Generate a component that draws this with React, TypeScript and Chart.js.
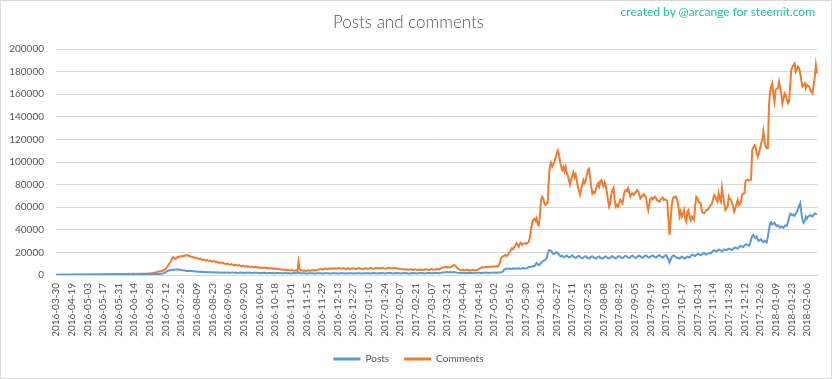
import React, { useEffect, useRef } from "react";
import { Chart, registerables } from "chart.js";

Chart.register(...registerables);

const TITLE = "Posts and comments";
const CREDIT = "created by @arcange for steemit.com";
const SERIES_NAMES = ["Posts", "Comments"];
const SERIES_COLORS = ["#5B9BD5", "#ED7D31"];
const FIRST_DAY = "2016-03-30";
const DAILY_FROM = "2016-04-06";
const LAST_DAY = "2018-02-15";
const LABEL_EVERY = 14;
const Y_MAX = 200000;
const Y_STEP = 20000;

// Daily values, in thousands, split by category index blocks of 50
const postsA = [0.1,0.2,0.2,0.1,0.2,0.2,0.2,0.3,0.2,0.2, 0.3,0.2,0.2,0.3,0.3,0.2,0.3,0.3,0.2,0.3, 0.3,0.3,0.2,0.3,0.3,0.3,0.3,0.2,0.3,0.3, 0.3,0.4,0.3,0.3,0.3,0.4,0.3,0.3,0.4,0.4, 0.3,0.4,0.4,0.3,0.4,0.4,0.4,0.3,0.4,0.4];
const postsB = [0.4,0.4,0.5,0.4,0.4,0.5,0.5,0.4,0.5,0.5, 0.5,0.4,0.5,0.5,0.5,0.5,0.4,0.5,0.5,0.5, 0.6,0.5,0.5,0.6,0.6,0.5,0.6,0.6,0.6,0.5, 0.6,0.6,0.6,0.6,0.7,0.7,0.7,0.7,0.8,0.8, 0.8,0.9,0.9,1.0,1.1,1.2,1.5,1.9,2.4,3.0];
const postsC = [3.6,4.0,4.3,4.5,4.6,4.7,4.8,4.6,4.9,5.0, 4.8,4.6,4.5,4.3,4.1,4.0,3.8,3.6,3.5,3.6, 3.7,3.5,3.4,3.6,3.3,3.1,3.0,2.9,2.8,2.9, 2.7,2.8,2.6,2.7,2.5,2.6,2.4,2.5,2.6,2.4, 2.3,2.4,2.5,2.3,2.2,2.4,2.3,2.1,2.2,2.3];
const postsD = [2.1,2.2,2.0,2.1,2.2,2.0,1.9,2.1,2.2,2.1, 2.0,2.1,1.9,1.8,2.0,2.1,2.0,2.1,1.9,1.8, 1.9,2.0,2.0,1.9,2.0,1.8,1.7,1.9,2.0,1.9, 1.9,1.8,1.7,1.6,1.8,1.9,1.8,1.9,1.7,1.6, 1.7,1.8,1.8,1.7,1.8,1.6,1.5,1.7,1.8,1.7];
const postsE = [1.7,1.8,1.6,1.5,1.6,1.7,1.7,1.6,1.7,1.5, 1.4,1.6,1.7,1.6,1.7,1.6,1.5,2.2,1.6,1.5, 1.6,1.6,1.5,1.6,1.4,1.4,1.5,1.6,1.5,1.6, 1.5,1.4,1.3,1.5,1.6,1.5,1.6,1.5,1.4,1.3, 1.5,1.6,1.5,1.6,1.5,1.4,1.3,1.5,1.6,1.5];
const postsF = [1.6,1.5,1.4,1.3,1.5,1.6,1.6,1.5,1.6,1.4, 1.3,1.5,1.6,1.5,1.6,1.5,1.4,1.4,1.5,1.6, 1.6,1.5,1.6,1.4,1.3,1.5,1.6,1.6,1.5,1.6, 1.5,1.4,1.5,1.6,1.7,1.6,1.6,1.5,1.4,1.6, 1.7,1.6,1.7,1.6,1.5,1.4,1.6,1.7,1.7,1.6];
const postsG = [1.7,1.5,1.4,1.6,1.7,1.6,1.7,1.6,1.5,1.4, 1.6,1.7,1.6,1.7,1.6,1.4,1.4,1.6,1.7,1.6, 1.7,1.6,1.5,1.4,1.6,1.7,1.7,1.6,1.7,1.5, 1.4,1.6,1.7,1.7,1.8,1.7,1.5,1.5,1.7,1.8, 1.8,1.7,1.8,1.6,1.9,2.1,2.3,2.2,2.4,2.5];
const postsH = [2.6,2.4,2.5,2.6,2.4,2.5,2.7,2.5,2.3,2.1, 1.9,1.8,1.7,1.8,1.9,1.8,1.7,1.6,1.8,1.9, 1.8,1.9,1.8,1.7,1.6,1.8,1.9,1.9,2.0,1.9, 1.7,1.7,1.9,2.0,2.0,2.1,2.0,1.9,1.8,2.0, 2.1,2.2,2.1,2.2,2.0,2.0,2.2,2.3,2.4,2.6];
const postsI = [3.2,4.6,5.4,5.8,5.6,5.5,5.8,5.6,5.4,5.7, 5.9,5.6,5.5,5.8,6.0,5.7,5.5,5.8,6.1,5.9, 5.7,6.0,6.4,6.9,7.3,7.0,7.6,8.0,7.8,8.9, 10.6,9.8,8.6,9.5,10.6,11.8,12.4,13.0,13.6,14.8, 19.0,21.8,22.0,21.5,20.0,18.7,18.9,19.6,20.2,19.4];
const postsJ = [18.2,17.0,16.4,17.1,16.2,15.8,16.5,17.2,16.4,15.6, 15.9,16.8,17.4,16.3,15.5,15.1,15.8,16.6,16.9,15.9, 15.2,14.8,15.5,16.3,16.7,15.6,15.0,14.6,15.4,16.2, 16.5,15.5,14.9,14.5,15.3,16.1,16.4,15.4,14.8,14.5, 15.2,16.0,16.4,15.5,14.9,14.6,15.4,16.3,16.6,15.7];
const postsK = [15.0,14.7,15.5,16.3,16.8,15.9,15.2,14.9,15.8,16.6, 17.0,16.1,15.4,15.0,15.9,16.7,17.1,16.2,15.5,15.1, 16.0,16.8,17.2,16.3,15.6,15.2,16.1,16.9,17.3,16.4, 15.7,15.3,16.2,17.0,17.4,16.5,15.8,15.4,16.3,17.1, 17.5,16.6,15.9,15.5,16.4,17.2,17.6,16.0,14.2,11.0];
const postsL = [13.5,15.8,16.9,17.3,16.4,15.7,15.3,15.0,14.6,15.4, 16.2,15.6,15.0,14.7,15.5,16.3,16.0,15.4,16.8,17.6, 18.0,17.2,16.8,17.7,18.5,18.8,18.0,17.5,18.3,19.0, 19.3,18.5,18.0,18.8,19.4,19.6,19.0,20.2,21.3,22.0, 21.4,20.8,21.6,22.4,22.1,21.5,21.0,21.9,22.6,22.3];
const postsM = [22.0,22.7,23.3,23.0,22.4,22.2,23.2,24.0,24.5,23.8, 23.4,24.6,25.3,25.8,25.2,24.8,25.9,26.6,27.2,26.5, 26.0,27.4,31.5,34.2,35.4,33.6,32.8,34.0,31.4,30.2, 30.8,31.6,29.8,29.2,30.4,29.6,28.8,33.5,40.2,45.5, 46.8,44.7,45.6,46.3,44.2,43.3,44.1,42.8,41.9,43.0];
const postsN = [42.5,41.8,43.2,44.0,43.5,46.5,50.8,54.2,53.6,52.8, 53.5,52.4,54.0,55.8,58.5,61.0,63.4,55.2,48.6,46.2, 47.8,51.5,49.8,51.6,52.4,53.0,52.2,51.8,53.2,54.6, 54.0,53.4];

const commentsA = [0.1,0.2,0.2,0.1,0.2,0.3,0.2,0.3,0.3,0.2, 0.3,0.3,0.2,0.3,0.4,0.3,0.4,0.4,0.3,0.4, 0.4,0.4,0.3,0.4,0.5,0.4,0.5,0.4,0.4,0.5, 0.5,0.5,0.4,0.5,0.5,0.6,0.5,0.5,0.6,0.5, 0.5,0.6,0.6,0.5,0.6,0.6,0.7,0.6,0.6,0.7];
const commentsB = [0.7,0.7,0.8,0.7,0.8,0.8,0.7,0.8,0.9,0.8, 0.8,0.9,0.9,0.8,0.9,1.0,0.9,0.9,1.0,1.0, 1.0,0.9,1.0,1.1,1.1,1.0,1.1,1.1,1.2,1.1, 1.2,1.2,1.3,1.3,1.4,1.5,1.6,1.8,2.0,2.3, 2.5,2.8,3.0,3.3,3.5,3.8,4.2,4.6,5.2,6.5];
const commentsC = [8.0,9.5,10.8,12.6,14.8,15.9,14.7,14.2,15.3,16.0, 15.6,16.4,16.8,16.2,16.9,17.3,17.0,17.7,17.4,16.6, 16.9,16.2,15.6,16.1,15.3,14.8,15.2,14.6,14.0,14.4, 13.8,13.3,13.7,13.2,12.8,13.3,12.7,12.4,12.8,12.2, 11.8,12.3,11.9,11.4,11.8,11.2,10.8,11.3,10.9,10.4];
const commentsD = [10.6,10.1,9.7,10.2,9.8,9.4,9.1,9.6,9.2,8.8, 8.5,9.0,8.6,8.3,8.7,8.2,7.9,8.3,8.0,7.6, 7.8,7.4,7.7,7.3,7.0,7.4,7.1,6.8,7.2,6.9, 6.6,6.9,6.5,6.7,6.3,6.5,6.8,6.4,6.1,6.4, 6.0,5.7,6.1,5.8,5.5,5.9,5.6,5.3,5.6,5.2];
const commentsE = [5.1,4.8,5.0,4.7,4.5,4.8,4.6,4.3,4.5,4.2, 4.0,4.3,4.1,3.8,4.0,3.9,3.6,12.0,5.5,4.1, 3.9,3.7,4.0,3.8,3.6,3.9,4.2,4.0,3.8,4.1, 4.4,4.2,4.0,4.3,4.6,4.8,5.0,5.3,5.1,4.9, 5.4,5.7,5.5,5.2,5.6,5.9,5.7,5.4,5.8,6.0];
const commentsF = [5.8,5.5,5.9,6.1,5.9,5.6,5.8,6.0,5.7,5.4, 5.6,5.9,5.7,5.3,5.5,5.8,6.0,5.7,5.4,5.6, 5.9,6.1,5.8,5.5,5.3,5.6,5.8,6.0,5.7,5.5, 5.7,6.0,6.2,5.9,5.6,5.8,6.1,6.3,6.0,5.7, 5.9,6.2,6.4,6.1,5.8,5.6,5.9,6.2,6.5,6.2];
const commentsG = [6.0,5.8,6.1,6.3,6.0,5.7,5.5,5.8,5.4,5.1, 5.3,5.0,4.8,5.1,4.9,4.6,4.8,5.1,4.8,4.5, 4.7,5.0,4.8,4.5,4.3,4.6,4.9,4.7,4.4,4.6, 4.9,5.1,4.8,4.5,4.7,5.0,5.2,4.9,4.6,4.8, 5.1,5.3,5.0,4.8,5.6,6.2,6.8,6.5,7.0,7.3];
const commentsH = [6.8,7.1,6.6,6.9,7.4,8.0,8.8,8.5,7.6,6.4, 5.4,4.8,4.5,4.3,4.6,4.4,4.1,4.3,4.6,4.4, 4.2,4.0,4.3,4.5,4.3,4.1,4.4,4.7,5.0,5.6, 6.2,6.6,6.9,6.5,7.0,7.3,6.9,7.2,7.5,7.1, 7.4,7.7,7.3,7.6,7.9,7.5,8.2,10.5,13.8,16.0];
const commentsI = [16.5,17.2,17.7,16.8,17.5,18.6,20.2,22.0,23.6,22.8, 24.5,26.0,28.0,26.5,25.0,27.5,28.4,26.8,27.5,28.0, 28.2,27.6,28.4,29.0,33.0,40.0,46.0,48.7,49.5,48.0, 50.2,45.0,44.0,52.0,66.0,69.3,68.0,63.4,62.0,63.4, 64.0,85.0,97.0,99.5,96.0,98.0,100.5,103.5,107.0,110.0];
const commentsJ = [107.0,101.0,96.0,93.0,95.5,92.0,96.0,90.5,88.0,84.0, 80.0,84.5,88.0,91.0,86.5,89.0,84.0,78.0,74.5,71.0, 76.0,80.0,84.0,81.5,83.0,88.0,93.0,94.0,86.0,78.0, 72.0,73.5,72.5,75.0,79.0,81.0,78.0,83.0,84.0,80.5, 78.5,82.0,79.0,73.0,66.0,60.5,64.0,72.0,75.0,77.0];
const commentsK = [66.0,60.5,62.0,60.5,63.4,66.4,65.0,63.4,70.0,74.5, 75.2,74.0,76.7,73.0,69.3,71.5,72.3,71.0,72.3,73.5, 75.2,74.0,71.0,67.8,69.0,70.8,71.5,70.0,68.5,62.0, 57.5,63.0,67.8,68.5,67.0,68.5,69.3,68.0,66.0,65.5, 64.9,66.5,67.8,68.5,66.5,67.0,66.4,65.5,50.0,35.4];
const commentsL = [48.0,62.0,67.8,69.0,68.5,69.3,66.0,60.5,52.0,56.0, 51.6,54.0,57.5,50.0,47.2,56.0,57.5,52.0,48.7,51.6, 50.0,48.7,62.0,69.3,67.8,64.9,64.0,63.4,56.0,55.0, 54.6,56.0,57.5,57.5,59.0,60.5,61.9,63.4,67.0,70.8, 69.3,67.0,64.9,72.3,68.0,64.9,77.1,70.0,63.4,57.5];
const commentsM = [59.0,60.5,69.3,67.0,66.4,63.4,60.0,56.0,59.0,63.0, 66.4,61.9,63.0,64.9,70.8,72.0,72.3,83.0,84.0,84.4, 83.5,84.0,84.4,110.6,113.0,115.0,113.5,108.0,104.7,107.7, 112.0,116.5,119.5,127.0,119.5,113.5,112.1,112.1,149.0,162.0, 166.7,169.7,160.0,153.4,163.8,165.0,165.2,171.1,166.0,160.8];
const commentsN = [151.9,156.0,160.8,159.3,155.0,151.9,153.4,168.0,181.4,184.4, 186.0,187.3,179.9,182.0,184.4,182.9,178.5,172.0,166.7,168.0, 169.7,165.2,168.2,167.0,166.7,163.8,162.0,160.8,168.0,175.5, 185.8,178.5];

const postsK1000 = [postsA, postsB, postsC, postsD, postsE, postsF, postsG, postsH, postsI, postsJ, postsK, postsL, postsM, postsN].flat();
const commentsK1000 = [commentsA, commentsB, commentsC, commentsD, commentsE, commentsF, commentsG, commentsH, commentsI, commentsJ, commentsK, commentsL, commentsM, commentsN].flat();

function dayRange(start: string, end: string): string[] {
  const out: string[] = [];
  let d = new Date(start + "T00:00:00Z").getTime();
  const e = new Date(end + "T00:00:00Z").getTime();
  while (d <= e) {
    out.push(new Date(d).toISOString().slice(0, 10));
    d += 86400000;
  }
  return out;
}

const categories = [FIRST_DAY, ...dayRange(DAILY_FROM, LAST_DAY)];

const FONT = "Lato, 'Open Sans', sans-serif";
const TEXT_COLOR = "#595959";
const GRID_COLOR = "#D9D9D9";

export default function App() {
  const canvasRef = useRef<HTMLCanvasElement | null>(null);

  useEffect(() => {
    document.body.style.margin = "0";
    const canvas = canvasRef.current;
    if (!canvas) return;
    const toCount = (arr: number[]) => arr.map((v) => Math.round(v * 1000));
    const chart = new Chart(canvas, {
      type: "line",
      data: {
        labels: categories,
        datasets: [
          {
            label: SERIES_NAMES[0],
            data: toCount(postsK1000),
            borderColor: SERIES_COLORS[0],
            backgroundColor: SERIES_COLORS[0],
            borderWidth: 2,
            pointRadius: 0,
            tension: 0,
          },
          {
            label: SERIES_NAMES[1],
            data: toCount(commentsK1000),
            borderColor: SERIES_COLORS[1],
            backgroundColor: SERIES_COLORS[1],
            borderWidth: 2,
            pointRadius: 0,
            tension: 0,
          },
        ],
      },
      options: {
        animation: false,
        responsive: false,
        maintainAspectRatio: false,
        layout: { padding: { left: 0, right: 15, top: 0, bottom: 5 } },
        plugins: {
          title: {
            display: true,
            text: TITLE,
            color: TEXT_COLOR,
            font: { family: FONT, size: 17, weight: "300", lineHeight: 1.2 },
            padding: { top: 12, bottom: 16.6 },
          },
          legend: {
            position: "bottom",
            labels: {
              font: { family: FONT, size: 10 },
              color: TEXT_COLOR,
              usePointStyle: true,
              pointStyle: "line",
              pointStyleWidth: 27,
              padding: 15,
              generateLabels: (c: any) => {
                const items = Chart.defaults.plugins.legend.labels.generateLabels(c);
                return items.map((it: any) => ({ ...it, lineWidth: 3, pointStyle: "line" }));
              },
            },
          },
          tooltip: { enabled: false },
        },
        scales: {
          x: {
            type: "category",
            grid: { display: false, drawTicks: false },
            border: { display: true, color: GRID_COLOR },
            ticks: {
              autoSkip: false,
              minRotation: 90,
              maxRotation: 90,
              padding: 8,
              color: TEXT_COLOR,
              font: { family: FONT, size: 10 },
            },
            afterBuildTicks: (s: any) => {
              s.ticks = s.ticks.filter((t: any) => t.value % LABEL_EVERY === 0);
            },
            afterFit: (s: any) => {
              s.height = 64;
            },
          },
          y: {
            min: 0,
            max: Y_MAX,
            grid: { color: GRID_COLOR, drawTicks: false },
            border: { display: false },
            ticks: {
              stepSize: Y_STEP,
              padding: 12,
              color: TEXT_COLOR,
              font: { family: FONT, size: 10 },
              callback: (v: any) => String(v),
            },
            afterFit: (s: any) => {
              s.width = 56;
            },
          },
        },
      },
    } as any);
    return () => chart.destroy();
  }, []);

  return (
    <div style={{ position: "relative", width: 832, height: 379, background: "#fff" }}>
      <canvas ref={canvasRef} width={832} height={379} style={{ display: "block" }} />
      <div
        style={{
          position: "absolute",
          right: 17,
          top: 5,
          fontFamily: FONT,
          fontSize: 12,
          lineHeight: "14px",
          color: "#1DC39C",
          whiteSpace: "nowrap",
        }}
      >
        {CREDIT}
      </div>
      <div
        style={{
          position: "absolute",
          left: 0,
          top: 0,
          width: 832,
          height: 379,
          boxSizing: "border-box",
          border: "1px solid #D9D9D9",
          pointerEvents: "none",
        }}
      />
    </div>
  );
}
